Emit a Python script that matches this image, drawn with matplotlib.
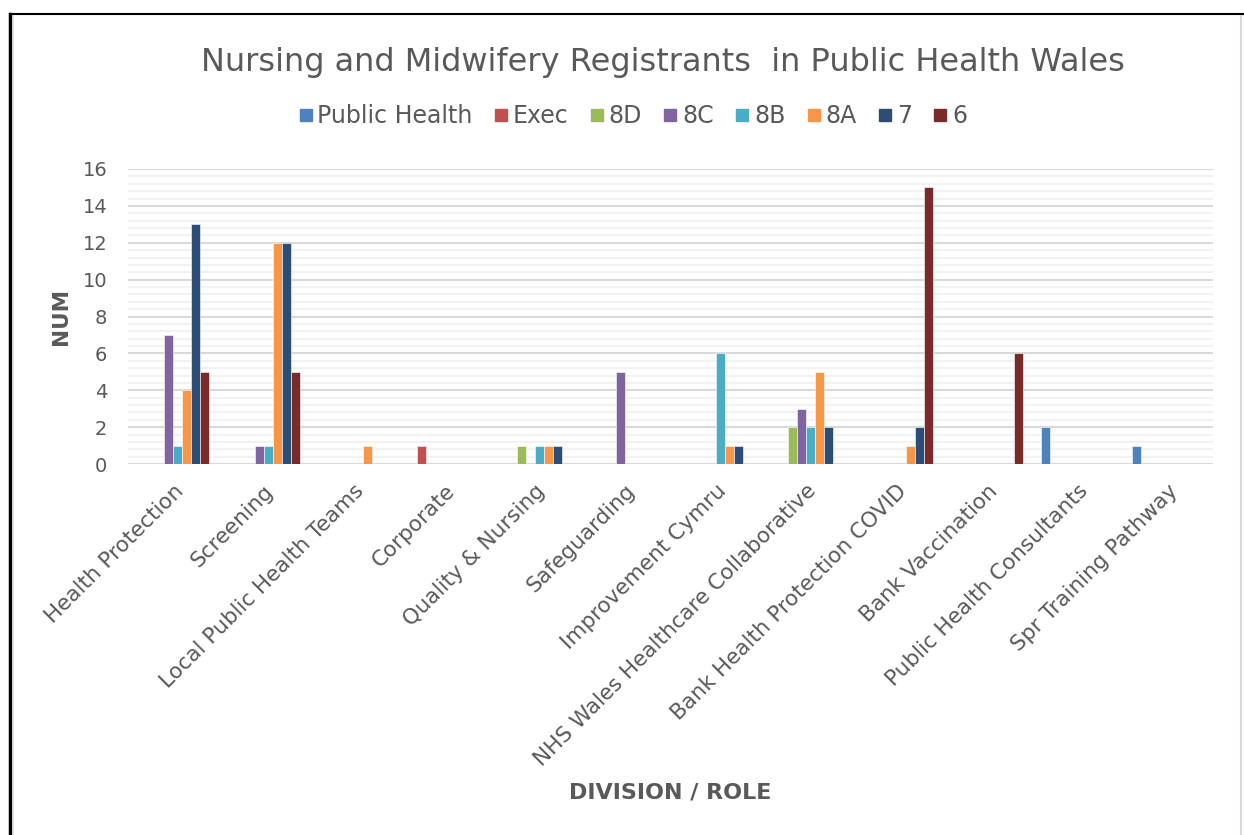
import numpy as np
import matplotlib
matplotlib.use("Agg")
import matplotlib.pyplot as plt
from matplotlib.lines import Line2D

# categories along the x axis
divisions = ["Health Protection", "Screening", "Local Public Health Teams",
             "Corporate", "Quality & Nursing", "Safeguarding",
             "Improvement Cymru", "NHS Wales Healthcare Collaborative",
             "Bank Health Protection COVID", "Bank Vaccination",
             "Public Health Consultants", "Spr Training Pathway"]

# one list per band, in legend order
public_health = [0, 0, 0, 0, 0, 0, 0, 0, 0, 0, 2, 1]
execu = [0, 0, 0, 1, 0, 0, 0, 0, 0, 0, 0, 0]
band_8d = [0, 0, 0, 0, 1, 0, 0, 2, 0, 0, 0, 0]
band_8c = [7, 1, 0, 0, 0, 5, 0, 3, 0, 0, 0, 0]
band_8b = [1, 1, 0, 0, 1, 0, 6, 2, 0, 0, 0, 0]
band_8a = [4, 12, 1, 0, 1, 0, 1, 5, 1, 0, 0, 0]
band_7 = [13, 12, 0, 0, 1, 0, 1, 2, 2, 0, 0, 0]
band_6 = [5, 5, 0, 0, 0, 0, 0, 0, 15, 6, 0, 0]

series_names = ["Public Health", "Exec", "8D", "8C", "8B", "8A", "7", "6"]
series = [public_health, execu, band_8d, band_8c, band_8b, band_8a, band_7, band_6]
colors = ["#4F81BD", "#C0504D", "#9BBB59", "#8064A2", "#4BACC6", "#F79646",
          "#2C4D75", "#772C2A"]

txt = "#595959"
plt.rcParams['font.family'] = ['DejaVu Sans']

fig = plt.figure(figsize=(12.44, 8.35), dpi=100)
ax = fig.add_axes([128/1244, 1-464/835, (1213-128)/1244, (464-169)/835])

x = np.arange(len(divisions))
w = 0.1
for i, vals in enumerate(series):
    vals = np.array(vals, dtype=float)
    # empty cells are simply not drawn
    ax.bar(x + (i - 3.5)*w, np.where(vals > 0, vals, np.nan), w,
           color=colors[i], edgecolor="white", linewidth=0.4, zorder=3)

ax.set_xlim(-0.5, len(divisions) - 0.5)
ax.set_ylim(0, 16)
ax.set_yticks(np.arange(0, 17, 2))
ax.set_yticks(np.arange(0, 16.01, 0.4), minor=True)
ax.grid(axis="y", which="minor", color="#F2F2F2", linewidth=1.5, zorder=0)
ax.grid(axis="y", which="major", color="#D9D9D9", linewidth=1.5, zorder=1)
ax.tick_params(axis="y", which="both", length=0, labelsize=14, labelcolor=txt, pad=15)
ax.tick_params(axis="x", length=0, labelsize=15.5, labelcolor=txt, pad=12)
ax.set_xticks(x)
ax.set_xticklabels(divisions, rotation=45, ha="right", rotation_mode="anchor")
for s in ax.spines.values():
    s.set_visible(False)
ax.axhline(0, color="#D9D9D9", linewidth=1.5, zorder=2)

ax.set_ylabel("NUM", fontsize=15.5, fontweight="bold", color=txt, labelpad=8)
fig.text(670/1244, 1-793/835, "DIVISION / ROLE", fontsize=16, fontweight="bold",
         color=txt, ha="center", va="center")

fig.text(663/1244, 1-62/835, "Nursing and Midwifery Registrants  in Public Health Wales",
         fontsize=23, color=txt, ha="center", va="center")

handles = [Line2D([], [], marker="s", linestyle="none", markersize=9,
                  markerfacecolor=c, markeredgecolor=c) for c in colors]
leg = fig.legend(handles, series_names, loc="center", bbox_to_anchor=(631/1244, 1-116/835),
                 ncol=8, frameon=False, fontsize=17, handletextpad=0.05,
                 columnspacing=0.75, handlelength=0.9)
for t in leg.get_texts():
    t.set_color(txt)

# chart frame
fig.add_artist(Line2D([10/1244, 10/1244], [0, 1-14/835], color="black", linewidth=2.5,
                      transform=fig.transFigure))
fig.add_artist(Line2D([10/1244, 1], [1-14/835, 1-14/835], color="black", linewidth=1.5,
                      transform=fig.transFigure))
fig.add_artist(Line2D([13/1244, 13/1244], [0, 1-16/835], color="#D9D9D9", linewidth=1.2,
                      transform=fig.transFigure))
fig.add_artist(Line2D([1241/1244, 1241/1244], [0, 1-16/835], color="#D9D9D9", linewidth=1.5,
                      transform=fig.transFigure))

fig.savefig("out.png", dpi=100, facecolor="white")
